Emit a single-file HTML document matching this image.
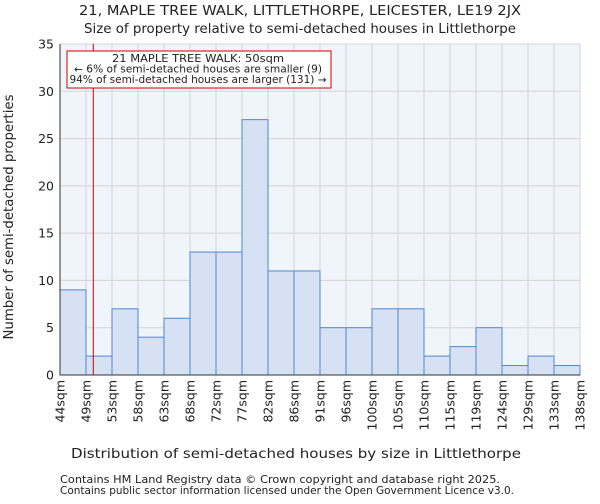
<!DOCTYPE html>
<html><head><meta charset="utf-8"><style>
body{margin:0;background:#fff;font-family:"DejaVu Sans","Liberation Sans",sans-serif}
text{font-family:"DejaVu Sans","Liberation Sans",sans-serif;fill:#222}
</style></head><body>
<svg id="chart" width="600" height="500" xmlns="http://www.w3.org/2000/svg">
<text x="300" y="15" font-size="13.5" text-anchor="middle" textLength="442" lengthAdjust="spacingAndGlyphs">21, MAPLE TREE WALK, LITTLETHORPE, LEICESTER, LE19 2JX</text>
<text x="300" y="33" font-size="13.5" text-anchor="middle" textLength="432" lengthAdjust="spacingAndGlyphs">Size of property relative to semi-detached houses in Littlethorpe</text>
<rect x="60" y="44" width="520" height="331" fill="#f0f4fb"/>
<g id="grid"></g><g id="bars"></g><g id="axes"></g>
<text x="296" y="458" font-size="13.5" text-anchor="middle" textLength="450" lengthAdjust="spacingAndGlyphs">Distribution of semi-detached houses by size in Littlethorpe</text>
<text transform="translate(13,217) rotate(-90)" font-size="13" text-anchor="middle" textLength="245" lengthAdjust="spacingAndGlyphs">Number of semi-detached properties</text>
<text x="60" y="483" font-size="10.5" fill="#444" textLength="440" lengthAdjust="spacingAndGlyphs">Contains HM Land Registry data © Crown copyright and database right 2025.</text>
<text x="60" y="494" font-size="10.5" fill="#444" textLength="454" lengthAdjust="spacingAndGlyphs">Contains public sector information licensed under the Open Government Licence v3.0.</text>
</svg>
<script>
const binLabels=["44sqm","49sqm","53sqm","58sqm","63sqm","68sqm","72sqm","77sqm","82sqm","86sqm","91sqm","96sqm","100sqm","105sqm","110sqm","115sqm","119sqm","124sqm","129sqm","133sqm","138sqm"];
const counts=[9,2,7,4,6,13,13,27,11,11,5,5,7,7,2,3,5,1,2,1];
const yTicks=[0,5,10,15,20,25,30,35];
const markerIndex=1.28;
const NS="http://www.w3.org/2000/svg";
const x0=60,x1=580,y0=375,y1=44,yMax=35;
const bw=(x1-x0)/counts.length;
const X=i=>x0+i*bw, Y=v=>y0-(v/yMax)*(y0-y1);
function mk(t,a,p){const e=document.createElementNS(NS,t);for(const k in a)e.setAttribute(k,a[k]);p.appendChild(e);return e;}
const grid=document.getElementById('grid'),bars=document.getElementById('bars'),axes=document.getElementById('axes');
yTicks.forEach(v=>{
 const l=mk('line',{x1:x0,x2:x1,y1:Y(v),y2:Y(v),stroke:'#d4d4d4'},grid);
 
 
 const t=mk('text',{x:x0-6,y:Y(v)+4.5,'font-size':12.5,'text-anchor':'end'},axes);t.textContent=v;
 
 
});
binLabels.forEach((s,i)=>{
 const l=mk('line',{x1:X(i),x2:X(i),y1:y1,y2:y0,stroke:'#d4d4d4'},grid);
 
 
 const t=mk('text',{transform:`translate(${X(i)+4.5},${y0+5}) rotate(-90)`,'font-size':12.5,'text-anchor':'end'},axes);t.textContent=s;
 
 
});
counts.forEach((c,i)=>{
 const r=mk('rect',{x:X(i),y:Y(c),width:bw,height:y0-Y(c),fill:'#d6e2f4',stroke:'#4f86d0','stroke-width':1},bars);
 
 
});
const mx=X(markerIndex);
const ml=mk('line',{x1:mx,x2:mx,y1:y1,y2:y0,stroke:'#cc0000','stroke-width':1},axes);


const box=mk('rect',{x:67,y:51,width:264,height:37,fill:'#fff',stroke:'#cc0000'},axes);


const annLens=[172,248,257];
["21 MAPLE TREE WALK: 50sqm","← 6% of semi-detached houses are smaller (9)","94% of semi-detached houses are larger (131) →"].forEach((s,k)=>{
 const t=mk('text',{x:198,y:62+k*10.5,'font-size':10.3,'text-anchor':'middle',textLength:annLens[k],lengthAdjust:'spacingAndGlyphs'},axes);t.textContent=s;
 
 
});
const ax=mk('path',{d:`M${x0},${y1}V${y0}H${x1}`,fill:'none',stroke:'#333'},axes);


</script>
</body></html>
